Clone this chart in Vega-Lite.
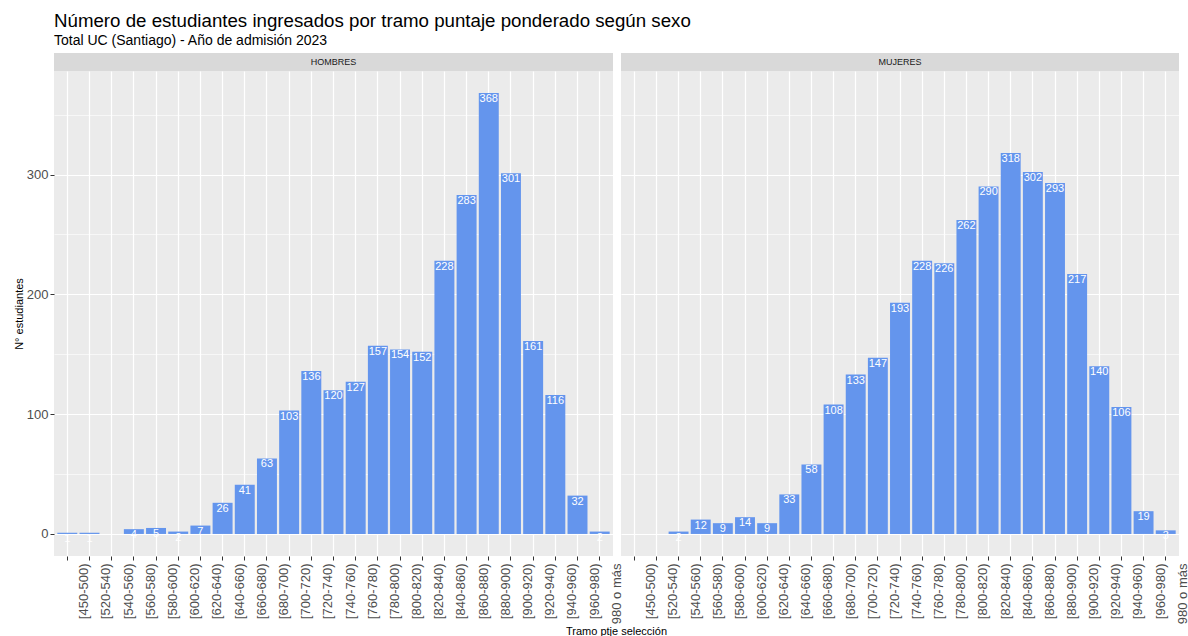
{
  "$schema": "https://vega.github.io/schema/vega-lite/v6.json",
  "background": "white",
  "padding": {"left": 13, "top": 12, "right": 0, "bottom": 0},
  "title": {
    "text": "Número de estudiantes ingresados por tramo puntaje ponderado según sexo",
    "subtitle": "Total UC (Santiago) - Año de admisión 2023",
    "anchor": "start",
    "frame": "group",
    "fontSize": 18.7,
    "fontWeight": "normal",
    "color": "black",
    "subtitleFontSize": 14,
    "subtitleColor": "black",
    "subtitlePadding": 3,
    "offset": 5
  },
  "datasets": {
    "d": [
      {"tramo": "[450-500)", "sexo": "HOMBRES", "n": 1},
      {"tramo": "[520-540)", "sexo": "HOMBRES", "n": 1},
      {"tramo": "[560-580)", "sexo": "HOMBRES", "n": 4},
      {"tramo": "[580-600)", "sexo": "HOMBRES", "n": 5},
      {"tramo": "[600-620)", "sexo": "HOMBRES", "n": 2},
      {"tramo": "[620-640)", "sexo": "HOMBRES", "n": 7},
      {"tramo": "[640-660)", "sexo": "HOMBRES", "n": 26},
      {"tramo": "[660-680)", "sexo": "HOMBRES", "n": 41},
      {"tramo": "[680-700)", "sexo": "HOMBRES", "n": 63},
      {"tramo": "[700-720)", "sexo": "HOMBRES", "n": 103},
      {"tramo": "[720-740)", "sexo": "HOMBRES", "n": 136},
      {"tramo": "[740-760)", "sexo": "HOMBRES", "n": 120},
      {"tramo": "[760-780)", "sexo": "HOMBRES", "n": 127},
      {"tramo": "[780-800)", "sexo": "HOMBRES", "n": 157},
      {"tramo": "[800-820)", "sexo": "HOMBRES", "n": 154},
      {"tramo": "[820-840)", "sexo": "HOMBRES", "n": 152},
      {"tramo": "[840-860)", "sexo": "HOMBRES", "n": 228},
      {"tramo": "[860-880)", "sexo": "HOMBRES", "n": 283},
      {"tramo": "[880-900)", "sexo": "HOMBRES", "n": 368},
      {"tramo": "[900-920)", "sexo": "HOMBRES", "n": 301},
      {"tramo": "[920-940)", "sexo": "HOMBRES", "n": 161},
      {"tramo": "[940-960)", "sexo": "HOMBRES", "n": 116},
      {"tramo": "[960-980)", "sexo": "HOMBRES", "n": 32},
      {"tramo": "980 o más", "sexo": "HOMBRES", "n": 2},
      {"tramo": "[540-560)", "sexo": "MUJERES", "n": 2},
      {"tramo": "[560-580)", "sexo": "MUJERES", "n": 12},
      {"tramo": "[580-600)", "sexo": "MUJERES", "n": 9},
      {"tramo": "[600-620)", "sexo": "MUJERES", "n": 14},
      {"tramo": "[620-640)", "sexo": "MUJERES", "n": 9},
      {"tramo": "[640-660)", "sexo": "MUJERES", "n": 33},
      {"tramo": "[660-680)", "sexo": "MUJERES", "n": 58},
      {"tramo": "[680-700)", "sexo": "MUJERES", "n": 108},
      {"tramo": "[700-720)", "sexo": "MUJERES", "n": 133},
      {"tramo": "[720-740)", "sexo": "MUJERES", "n": 147},
      {"tramo": "[740-760)", "sexo": "MUJERES", "n": 193},
      {"tramo": "[760-780)", "sexo": "MUJERES", "n": 228},
      {"tramo": "[780-800)", "sexo": "MUJERES", "n": 226},
      {"tramo": "[800-820)", "sexo": "MUJERES", "n": 262},
      {"tramo": "[820-840)", "sexo": "MUJERES", "n": 290},
      {"tramo": "[840-860)", "sexo": "MUJERES", "n": 318},
      {"tramo": "[860-880)", "sexo": "MUJERES", "n": 302},
      {"tramo": "[880-900)", "sexo": "MUJERES", "n": 293},
      {"tramo": "[900-920)", "sexo": "MUJERES", "n": 217},
      {"tramo": "[920-940)", "sexo": "MUJERES", "n": 140},
      {"tramo": "[940-960)", "sexo": "MUJERES", "n": 106},
      {"tramo": "[960-980)", "sexo": "MUJERES", "n": 19},
      {"tramo": "980 o más", "sexo": "MUJERES", "n": 3}
    ]
  },
  "columns": 2,
  "spacing": {"row": 0, "column": 8},
  "bounds": "flush",
  "align": "each",
  "concat": [
    {
      "width": 559,
      "height": 18,
      "view": {"fill": "#D9D9D9", "stroke": null},
      "data": {"values": [{"s": "HOMBRES"}]},
      "mark": {"type": "text", "fontSize": 9, "color": "#1A1A1A", "baseline": "middle", "align": "center"},
      "encoding": {"text": {"field": "s", "type": "nominal"}}
    },
    {
      "width": 558,
      "height": 18,
      "view": {"fill": "#D9D9D9", "stroke": null},
      "data": {"values": [{"s": "MUJERES"}]},
      "mark": {"type": "text", "fontSize": 9, "color": "#1A1A1A", "baseline": "middle", "align": "center"},
      "encoding": {"text": {"field": "s", "type": "nominal"}}
    },
    {
      "width": 559,
      "height": 485,
      "view": {"fill": "#EBEBEB", "stroke": null},
      "data": {"name": "d"},
      "transform": [{"filter": "datum.sexo === 'HOMBRES'"}],
      "encoding": {
        "x": {
          "field": "tramo",
          "type": "nominal",
          "scale": {
            "domain": ["[450-500)","[520-540)","[540-560)","[560-580)","[580-600)","[600-620)","[620-640)","[640-660)","[660-680)","[680-700)","[700-720)","[720-740)","[740-760)","[760-780)","[780-800)","[800-820)","[820-840)","[840-860)","[860-880)","[880-900)","[900-920)","[920-940)","[940-960)","[960-980)","980 o más"],
            "paddingInner": 0.1,
            "paddingOuter": 0.15
          },
          "axis": {
            "bandPosition": 0.5,
            "labelAngle": -90,
            "labelAlign": "right",
            "labelBaseline": "middle",
            "labelOffset": 17,
            "labelFontSize": 13,
            "labelColor": "#4D4D4D",
            "labelPadding": 3,
            "labelOverlap": false,
            "labelBound": false,
            "tickColor": "#333333",
            "tickSize": 4,
            "domain": false,
            "grid": true,
            "gridColor": "white",
            "gridWidth": 1.2,
            "title": "Tramo ptje selección",
            "titleFontSize": 11,
            "titleFontWeight": "normal",
            "titleColor": "black",
            "titleX": 562,
            "titlePadding": 2
          }
        },
        "y": {
          "field": "n",
          "type": "quantitative",
          "scale": {"domain": [-18.4, 386.4], "nice": false, "zero": false},
          "axis": {
            "values": [0, 50, 100, 150, 200, 250, 300, 350],
            "grid": true,
            "gridColor": "white",
            "gridWidth": {"condition": {"test": "datum.value % 100 === 0", "value": 1.2}, "value": 0.6},
            "domain": false,
            "tickColor": "#333333",
            "tickSize": 4,
            "tickOpacity": {"condition": {"test": "datum.value % 100 === 0", "value": 1}, "value": 0},
            "labelExpr": "datum.value % 100 === 0 ? datum.label : ''",
            "labelFontSize": 13,
            "labelColor": "#4D4D4D",
            "labelPadding": 2,
            "title": "N° estudiantes",
            "titleFontSize": 11,
            "titleFontWeight": "normal",
            "titleColor": "black",
            "titlePadding": 2
          }
        }
      },
      "layer": [
        {"mark": {"type": "bar", "color": "#6495ED"}},
        {"mark": {"type": "text", "color": "white", "baseline": "top", "fontSize": 11, "dy": 0}, "encoding": {"text": {"field": "n", "type": "quantitative"}}}
      ]
    },
    {
      "width": 558,
      "height": 485,
      "view": {"fill": "#EBEBEB", "stroke": null},
      "data": {"name": "d"},
      "transform": [{"filter": "datum.sexo === 'MUJERES'"}],
      "encoding": {
        "x": {
          "field": "tramo",
          "type": "nominal",
          "scale": {
            "domain": ["[450-500)","[520-540)","[540-560)","[560-580)","[580-600)","[600-620)","[620-640)","[640-660)","[660-680)","[680-700)","[700-720)","[720-740)","[740-760)","[760-780)","[780-800)","[800-820)","[820-840)","[840-860)","[860-880)","[880-900)","[900-920)","[920-940)","[940-960)","[960-980)","980 o más"],
            "paddingInner": 0.1,
            "paddingOuter": 0.15
          },
          "axis": {
            "bandPosition": 0.5,
            "labelAngle": -90,
            "labelAlign": "right",
            "labelBaseline": "middle",
            "labelOffset": 17,
            "labelFontSize": 13,
            "labelColor": "#4D4D4D",
            "labelPadding": 3,
            "labelOverlap": false,
            "labelBound": false,
            "tickColor": "#333333",
            "tickSize": 4,
            "domain": false,
            "grid": true,
            "gridColor": "white",
            "gridWidth": 1.2,
            "title": null
          }
        },
        "y": {
          "field": "n",
          "type": "quantitative",
          "scale": {"domain": [-18.4, 386.4], "nice": false, "zero": false},
          "axis": {
            "values": [0, 50, 100, 150, 200, 250, 300, 350],
            "grid": true,
            "gridColor": "white",
            "gridWidth": {"condition": {"test": "datum.value % 100 === 0", "value": 1.2}, "value": 0.6},
            "domain": false,
            "ticks": false,
            "labels": false,
            "title": null
          }
        }
      },
      "layer": [
        {"mark": {"type": "bar", "color": "#6495ED"}},
        {"mark": {"type": "text", "color": "white", "baseline": "top", "fontSize": 11, "dy": 0}, "encoding": {"text": {"field": "n", "type": "quantitative"}}}
      ]
    }
  ],
  "config": {
    "font": "Liberation Sans",
    "view": {"stroke": null}
  }
}
